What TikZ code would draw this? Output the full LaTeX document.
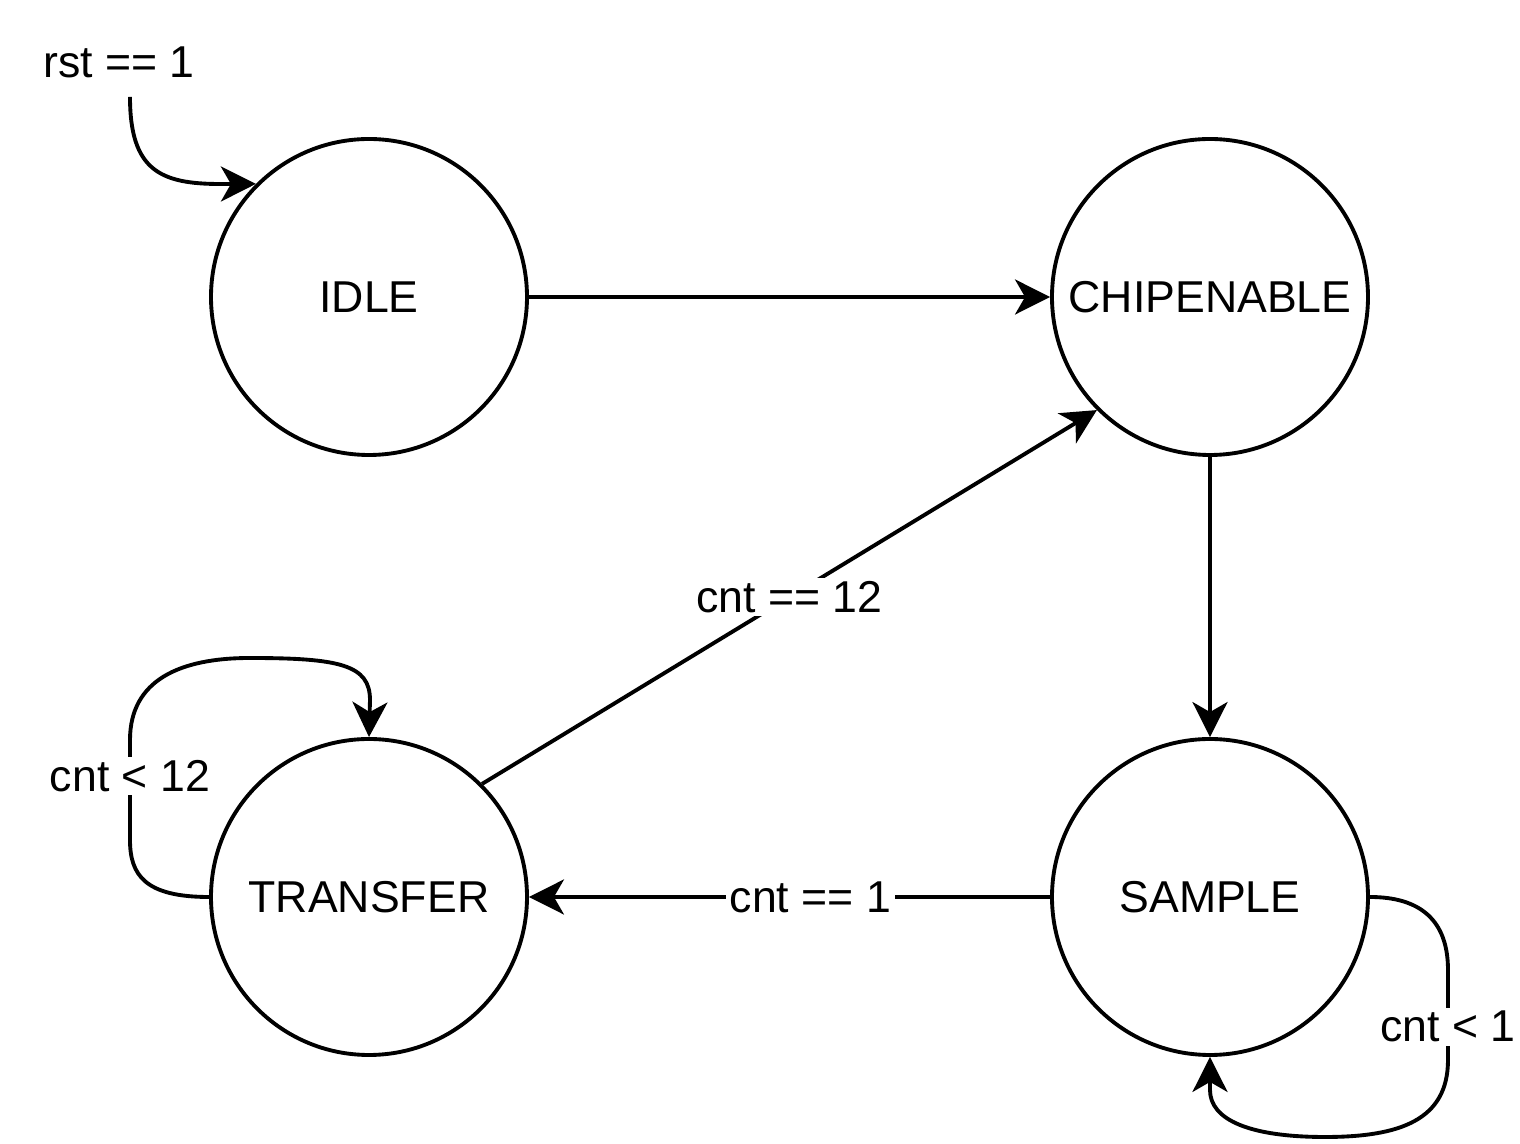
\documentclass[tikz,border=0pt]{standalone}
\usepackage{fontspec}
\setmainfont{Liberation Sans}
\usetikzlibrary{arrows.meta}
\usetikzlibrary{positioning}

\tikzset{
  statenode/.style={draw, circle, line width=1.1pt, minimum size=3.16cm, inner sep=0pt,
                    font=\fontsize{12.7}{15}\selectfont},
  edge/.style={->, line width=1.1pt},
  lbl/.style={fill=white, inner sep=1pt, font=\fontsize{12.7}{15}\selectfont},
}

\begin{document}
\begin{tikzpicture}[>={Stealth[length=3.5mm,width=3.5mm,inset=1mm]}]
        \useasboundingbox (0,0) rectangle (15.2,-11.44);

        \node[statenode] (idle) at (3.69,-2.97) {IDLE};
        \node[statenode] (chipen) at (12.10,-2.97) {CHIPENABLE};
        \node[statenode] (transfer) at (3.69,-8.97) {TRANSFER};
        \node[statenode] (sample) at (12.10,-8.97) {SAMPLE};

        % reset entry
        \node[lbl] (rst) at (1.19,-0.62) {rst == 1};
        \coordinate (rstin) at (1.30,-0.97);
        \draw[edge] (rstin) .. controls (1.30,-1.70) and (1.60,-1.84) .. (2.20,-1.84)
            -- (idle.135);

        \draw[edge] (idle) -- (chipen);
        \draw[edge] (chipen) -- (sample);
        \draw[edge] (sample) -- node[lbl, pos=0.46] {cnt == 1} (transfer);
        \draw[edge] (transfer.45) -- node[lbl] {cnt == 12} (chipen.225);

        % self loops
        \draw[edge] (transfer.west) .. controls (1.45,-8.97) and (1.30,-8.75) .. (1.30,-8.40)
            -- node[lbl, pos=0.64] {cnt < 12} (1.30,-7.40)
            .. controls (1.30,-6.80) and (1.80,-6.58) .. (2.50,-6.58)
            .. controls (3.40,-6.58) and (3.70,-6.65) .. (3.70,-7.00) -- (transfer.north);

        \draw[edge] (sample.east) .. controls (14.20,-8.97) and (14.48,-9.20) .. (14.48,-9.70)
            -- node[lbl, pos=0.63] {cnt < 1} (14.48,-10.60)
            .. controls (14.48,-11.20) and (14.00,-11.37) .. (13.25,-11.37)
            .. controls (12.50,-11.37) and (12.10,-11.20) .. (12.10,-10.90) -- (sample.south);
\end{tikzpicture}
\end{document}
